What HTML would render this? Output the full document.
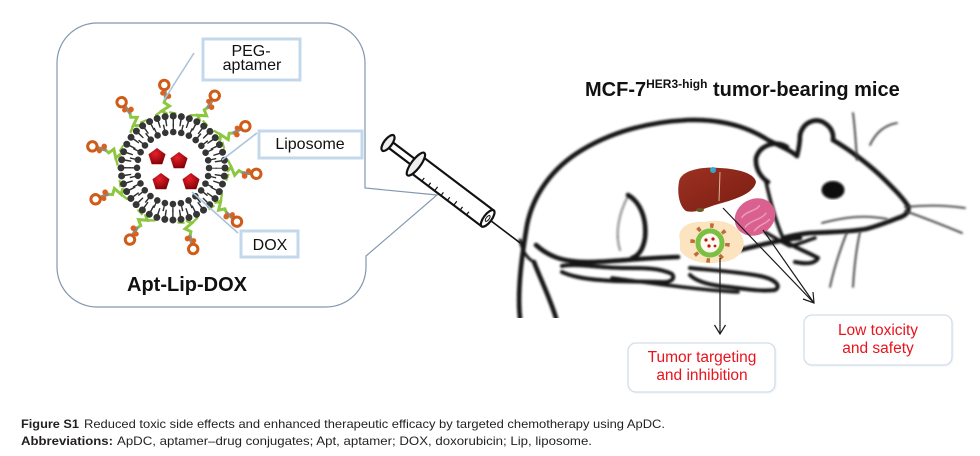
<!DOCTYPE html>
<html><head><meta charset="utf-8">
<style>
html,body{margin:0;padding:0;background:#fff;}
svg{display:block;}
text{font-family:"Liberation Sans",Arial,sans-serif;}
</style></head>
<body>
<svg width="980" height="456" viewBox="0 0 980 456" xmlns="http://www.w3.org/2000/svg">
<defs>
  <radialGradient id="pg" cx="40%" cy="35%" r="70%">
    <stop offset="0" stop-color="#e8202a"/><stop offset="1" stop-color="#7d0006"/>
  </radialGradient>
  <linearGradient id="lg" x1="0" y1="0" x2="1" y2="1">
    <stop offset="0" stop-color="#9c3222"/><stop offset="1" stop-color="#7a1c12"/>
  </linearGradient>
  <filter id="bl" x="-5%" y="-5%" width="110%" height="110%"><feGaussianBlur stdDeviation="1"/></filter>
  <filter id="sh" x="-10%" y="-10%" width="120%" height="130%"><feGaussianBlur stdDeviation="1"/></filter>
  <clipPath id="mc"><rect x="440" y="60" width="540" height="258"/></clipPath>
  <g id="apt">
    <polyline points="54,0 58,-5 62,3 66,-2 70,0" stroke="#8dc63f" stroke-width="3" fill="none"/>
    <line x1="58" y1="-5" x2="54" y2="-12" stroke="#8dc63f" stroke-width="2.4"/>
    <line x1="56" y1="2" x2="54" y2="9" stroke="#8dc63f" stroke-width="2"/>
    <line x1="69" y1="0" x2="79" y2="0" stroke="#8c8c8c" stroke-width="3.4"/>
    <circle cx="72" cy="3" r="2.8" fill="#d9621c"/>
    <circle cx="75.5" cy="-2.5" r="2.5" fill="#d9621c"/>
    <circle cx="83.5" cy="0" r="4.7" fill="none" stroke="#cf5b17" stroke-width="3"/>
  </g>
  <polygon id="pent" points="0,-9 8.56,-2.78 5.29,7.28 -5.29,7.28 -8.56,-2.78" fill="url(#pg)"/>
</defs>

<!-- speech bubble -->
<path d="M97,23 H325 A40,40 0 0 1 365,63 V188 L437,195 L366,256 V267 A40,40 0 0 1 326,307 H97 A40,40 0 0 1 57,267 V63 A40,40 0 0 1 97,23 Z" fill="#fff" stroke="#8298b0" stroke-width="1.2"/>

<!-- liposome -->
<g>
  <use href="#apt" transform="translate(173,168) rotate(-96)"/>
  <use href="#apt" transform="translate(173,168) rotate(-60)"/>
  <use href="#apt" transform="translate(173,168) rotate(-30)"/>
  <use href="#apt" transform="translate(173,168) rotate(4)"/>
  <use href="#apt" transform="translate(173,168) rotate(40)"/>
  <use href="#apt" transform="translate(173,168) rotate(76)"/>
  <use href="#apt" transform="translate(173,168) rotate(121)"/>
  <use href="#apt" transform="translate(173,168) rotate(158)"/>
  <use href="#apt" transform="translate(173,168) rotate(195)"/>
  <use href="#apt" transform="translate(173,168) rotate(232)"/>
  <!-- outer tails -->
  <circle cx="173" cy="168" r="45.5" fill="none" stroke="#2e2e2e" stroke-width="6.5" stroke-dasharray="1.4 5.747" stroke-dashoffset="0.7"/>
  <!-- outer heads -->
  <circle cx="173" cy="168" r="52" fill="none" stroke="#353535" stroke-width="7" stroke-linecap="round" stroke-dasharray="0 8.168"/>
  <!-- inner tails -->
  <circle cx="173" cy="168" r="41.5" fill="none" stroke="#2e2e2e" stroke-width="5.5" stroke-dasharray="1.4 7.912" stroke-dashoffset="0.7"/>
  <!-- inner heads -->
  <circle cx="173" cy="168" r="36" fill="none" stroke="#353535" stroke-width="6.6" stroke-linecap="round" stroke-dasharray="0 8.078"/>
  <use href="#pent" transform="translate(157,157)"/>
  <use href="#pent" transform="translate(179,161)"/>
  <use href="#pent" transform="translate(161,182)"/>
  <use href="#pent" transform="translate(191,182)"/>
</g>

<!-- pointer lines -->
<g stroke="#a9c4dc" stroke-width="1.6">
  <line x1="194" y1="53" x2="164" y2="100"/>
  <line x1="257" y1="133" x2="222" y2="160"/>
  <line x1="192" y1="192" x2="238" y2="233"/>
</g>

<!-- label boxes -->
<g fill="#fff" stroke="#c4d8ec" stroke-width="3">
  <rect x="203" y="39" width="97" height="41"/>
  <rect x="259" y="131" width="103" height="27"/>
  <rect x="241" y="231" width="57" height="26"/>
</g>
<g font-size="16" fill="#111" text-anchor="middle">
  <text x="251" y="56">PEG-</text>
  <text x="252" y="70">aptamer</text>
  <text x="310" y="149">Liposome</text>
  <text x="270" y="250">DOX</text>
</g>
<text x="187" y="291" font-size="20" font-weight="bold" text-anchor="middle" fill="#111">Apt-Lip-DOX</text>

<!-- syringe -->
<g transform="translate(388,143) rotate(37.1)" stroke="#111" fill="#fff" stroke-width="2.2">
  <line x1="125" y1="0" x2="166" y2="0" stroke-width="1.6"/>
  <rect x="2" y="-3.5" width="32" height="7"/>
  <ellipse cx="0" cy="0" rx="4" ry="9.5" fill="#eee"/>
  <rect x="36" y="-10" width="89" height="20"/>
  <ellipse cx="35" cy="0" rx="4.5" ry="14" fill="#eee"/>
  <ellipse cx="125" cy="0" rx="4" ry="10"/>
  <ellipse cx="125" cy="0" rx="1.5" ry="3.5" fill="#fff" stroke-width="1"/>
  <g stroke-width="1.2">
    <line x1="50" y1="10" x2="50" y2="6"/><line x1="58" y1="10" x2="58" y2="6"/>
    <line x1="66" y1="10" x2="66" y2="5"/><line x1="74" y1="10" x2="74" y2="6"/>
    <line x1="82" y1="10" x2="82" y2="6"/><line x1="90" y1="10" x2="90" y2="5"/>
    <line x1="98" y1="10" x2="98" y2="6"/><line x1="106" y1="10" x2="106" y2="6"/>
  </g>
</g>

<!-- title -->
<text x="585" y="96" font-size="20" font-weight="bold" fill="#111">MCF-7<tspan font-size="12" dy="-8">HER3-high</tspan><tspan dy="8"> tumor-bearing mice</tspan></text>

<!-- mouse -->
<g clip-path="url(#mc)">
 <g filter="url(#bl)" fill="none" stroke="#141414" stroke-width="4.6" stroke-linecap="round" stroke-linejoin="round">
  <path d="M520,318 C517,290 522,255 527,225 C533,195 552,168 582,150 C612,132 648,122 688,120 C718,119 745,125 768,140 C780,146 790,150 797,156"/>
  <path d="M534,262 C540,278 550,298 556,318"/>
  <path d="M536,245 C548,256 562,262 588,262 C612,262 640,258 678,257"/>
  <path d="M628,195 C640,202 647,218 645,238 C643,250 638,256 632,258"/>
  <path d="M562,266 C577,263 600,268 625,268 C645,268 660,268 672,274 C676,279 670,283 660,282 C640,281 620,282 600,280 C585,279 570,276 562,272" stroke-width="4"/>
  <path d="M612,278 C650,283 700,290 738,292" stroke-width="3.5"/>
  <path d="M740,250 C760,245 780,240 800,238"/>
  <path d="M690,268 C710,270 740,272 760,276 C775,279 782,286 775,290 C760,292 740,288 720,286 C705,284 695,280 690,275" stroke-width="4"/>
  <path d="M765,232 C775,238 785,244 790,246 C800,244 808,240 815,238" stroke-width="3.5"/>
  <path d="M783,240 C795,248 808,252 818,258 C815,264 805,264 795,262" stroke-width="4"/>
  <path d="M787,147 C775,140 760,145 756,158 C755,170 762,178 768,182"/>
  <path d="M800,135 C803,122 815,118 823,122 C830,126 834,132 833,140"/>
  <path d="M797,156 C799,148 800,142 800,135"/>
  <path d="M833,140 C850,150 870,165 885,180 C895,190 903,198 908,206 C910,212 905,216 898,218 C888,222 878,226 866,229 C850,232 830,232 810,233 C800,234 790,236 783,238"/>
  <path d="M766,182 C770,200 775,220 783,238" stroke-width="3.5"/>
  <path d="M628,196 C618,215 615,235 620,250" stroke-width="2" opacity="0.5"/>
  <path d="M520,240 C522,250 526,258 534,262" stroke-width="3"/>
 </g>
 <g filter="url(#bl)" fill="none" stroke="#3a3a3a" stroke-width="1.8" stroke-linecap="round">
  <path d="M905,207 C925,205 945,205 965,208"/>
  <path d="M905,211 C925,218 945,226 962,233"/>
  <path d="M853,113 C855,128 856,145 857,160"/>
  <path d="M870,145 C876,132 885,125 897,123"/>
  <path d="M847,232 C840,250 834,268 830,287"/>
  <path d="M860,232 C856,250 854,270 853,287"/>
  <path d="M887,219 C862,214 842,218 822,223"/>
 </g>
 <ellipse cx="833" cy="190" rx="11.5" ry="9" fill="#111" filter="url(#bl)"/>
</g>

<!-- organs -->
<path d="M679,182 C680,171 700,166 720,168 C740,169 755,174 756,182 C754,192 740,198 722,203 C706,207 696,214 686,211 C679,206 677,192 679,182 Z" fill="url(#lg)"/>
<line x1="720" y1="172" x2="719" y2="201" stroke="#d8b89a" stroke-width="1"/>
<circle cx="713" cy="170" r="3" fill="#3aa6cf"/>
<ellipse cx="700" cy="210" rx="4" ry="2" fill="#6d5a2a"/>
<g transform="translate(755,217) rotate(-30)">
  <ellipse cx="0" cy="0" rx="21" ry="18" fill="#d9608f"/>
  <path d="M-12,-6 C-5,-10 5,-4 10,-8 M-14,4 C-6,0 4,6 12,2 M-8,12 C0,8 6,12 12,9" stroke="#eb9ab9" stroke-width="1.5" fill="none"/>
</g>
<path d="M680,240 C676,228 690,220 705,222 C720,218 738,224 742,236 C748,248 738,262 720,262 C705,266 685,260 680,250 Z" fill="#fbe4bf"/>
<circle cx="710" cy="243" r="12" fill="#fff8ee" stroke="#7cc043" stroke-width="5"/>
<circle cx="710" cy="243" r="17.5" fill="none" stroke="#b4602a" stroke-width="4.5" stroke-dasharray="3.5 10.24" opacity="0.9"/>
<g fill="#c01818"><circle cx="706" cy="240" r="1.6"/><circle cx="713" cy="239" r="1.6"/><circle cx="709" cy="246" r="1.6"/><circle cx="715" cy="246" r="1.4"/></g>

<!-- arrows -->
<g stroke="#1a1a1a" stroke-width="1.2" fill="none">
  <line x1="720" y1="258" x2="720" y2="334"/>
  <polyline points="714.5,325 720,334 725.5,325"/>
  <line x1="723" y1="208" x2="814" y2="303"/>
  <line x1="763" y1="230" x2="814" y2="303"/>
  <polyline points="803,299 814,303 813,292"/>
</g>

<!-- result boxes -->
<rect x="629" y="344" width="147" height="49" rx="8" fill="#e6edf4" filter="url(#sh)"/>
<rect x="628" y="343" width="147" height="49" rx="8" fill="#fff" stroke="#d3dde8" stroke-width="1.3"/>
<rect x="805" y="316" width="148" height="50" rx="8" fill="#e6edf4" filter="url(#sh)"/>
<rect x="804" y="315" width="148" height="50" rx="8" fill="#fff" stroke="#d3dde8" stroke-width="1.3"/>
<g fill="#e8141c" font-size="15.5" text-anchor="middle">
  <text x="702" y="362">Tumor targeting</text>
  <text x="702" y="380">and inhibition</text>
  <text x="878" y="335">Low toxicity</text>
  <text x="878" y="353">and safety</text>
</g>

<!-- caption -->
<g fill="#231f20" font-size="12">
  <text x="21" y="428" font-weight="bold" textLength="58" lengthAdjust="spacingAndGlyphs">Figure S1</text>
  <text x="84" y="428" textLength="581" lengthAdjust="spacingAndGlyphs">Reduced toxic side effects and enhanced therapeutic efficacy by targeted chemotherapy using ApDC.</text>
  <text x="21" y="445" font-weight="bold" textLength="92" lengthAdjust="spacingAndGlyphs">Abbreviations:</text>
  <text x="117" y="445" textLength="475" lengthAdjust="spacingAndGlyphs">ApDC, aptamer–drug conjugates; Apt, aptamer; DOX, doxorubicin; Lip, liposome.</text>
</g>
</svg>
</body></html>
